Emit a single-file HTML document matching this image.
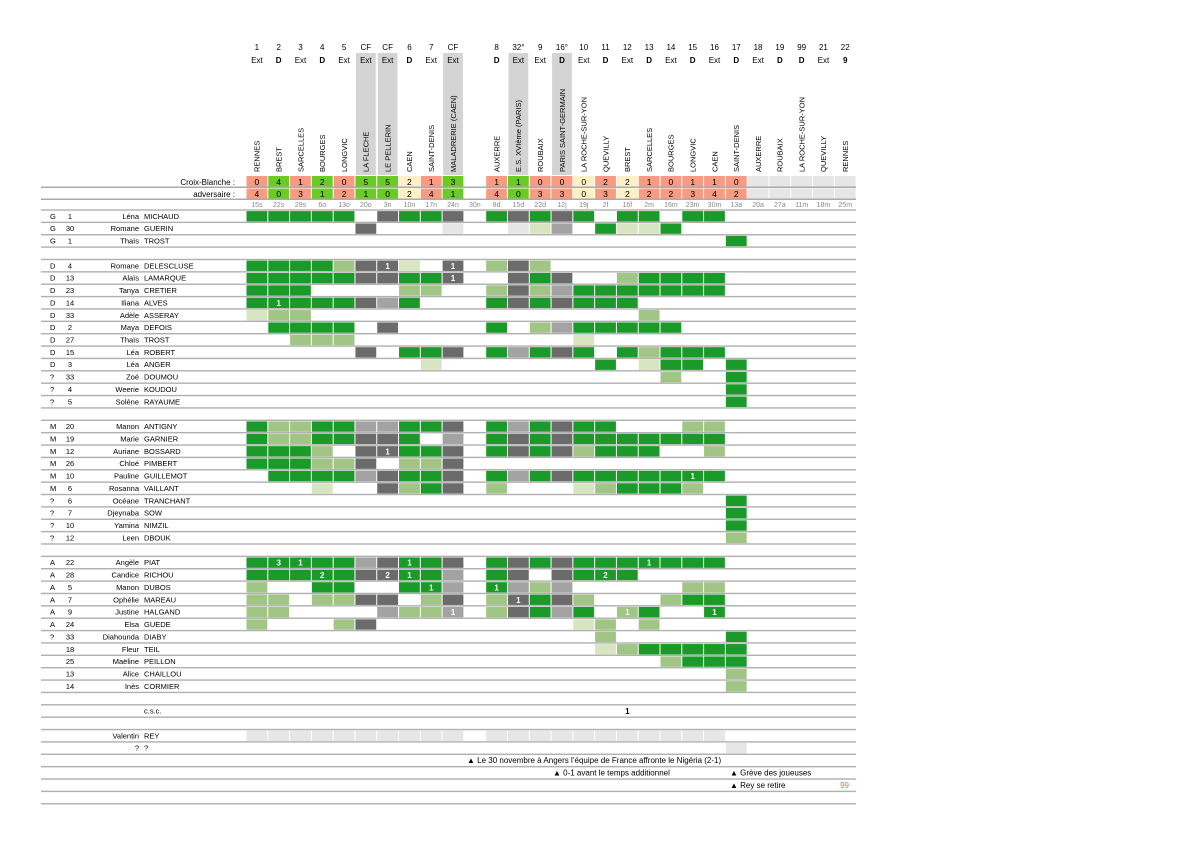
<!DOCTYPE html>
<html><head><meta charset="utf-8"><style>
html,body{margin:0;padding:0;background:#fff;width:1204px;height:851px;overflow:hidden}
svg{display:block}
text{font-family:"Liberation Sans","DejaVu Sans",sans-serif}
</style></head><body>
<svg id="s" width="1204" height="851" viewBox="0 0 1204 851" xmlns="http://www.w3.org/2000/svg"></svg>
<script>
var S=document.getElementById('s');var h='';
var X0=246,CW=21.79,R0=209.8,RH=12.37;
var C={G:'#1a9a28',L:'#a0c584',P:'#d8e5c1',K:'#6b6b6b',M:'#a3a3a3',E:'#e6e6e6'};
function cx(i){return X0+i*CW;}
var n1=['1','2','3','4','5','CF','CF','6','7','CF','','8','32°','9','16°','10','11','12','13','14','15','16','17','18','19','99','21','22'];
var n2=['Ext','D','Ext','D','Ext','Ext','Ext','D','Ext','Ext','','D','Ext','Ext','D','Ext','D','Ext','D','Ext','D','Ext','D','Ext','D','D','Ext','9'];
var tm=['RENNES','BREST','SARCELLES','BOURGES','LONGVIC','LA FLECHE','LE PELLERIN','CAEN','SAINT-DENIS','MALADRERIE (CAEN)','','AUXERRE','E.S. XVIème (PARIS)','ROUBAIX','PARIS SAINT-GERMAIN','LA ROCHE-SUR-YON','QUEVILLY','BREST','SARCELLES','BOURGES','LONGVIC','CAEN','SAINT-DENIS','AUXERRE','ROUBAIX','LA ROCHE-SUR-YON','QUEVILLY','RENNES'];
var dt=['15s','22s','29s','6o','13o','20o','3n','10n','17n','24n','30n','8d','15d','22d','12j','19j','2f','16f','2m','16m','23m','30m','13a','20a','27a','11m','18m','25m'];
var sc=[[0,4],[4,0],[1,3],[2,1],[0,2],[5,1],[5,0],[2,2],[1,4],[3,1],null,[1,4],[1,0],[0,3],[0,3],[0,0],[2,3],[2,2],[1,2],[0,2],[1,3],[1,4],[0,2]];
[5,6,9,12,14].forEach(function(i){h+='<rect x="'+(cx(i)+1)+'" y="53" width="'+(CW-2)+'" height="122" fill="#d4d4d4"/>';});
for(var i=0;i<28;i++){var m=cx(i)+CW/2;
h+='<text x="'+m+'" y="50" font-size="8" text-anchor="middle" fill="#000">'+n1[i]+'</text>';
var b=(n2[i]=='D'||n2[i]=='9');
h+='<text x="'+m+'" y="63" font-size="8" text-anchor="middle" fill="#000"'+(b?' font-weight="bold"':'')+'>'+n2[i]+'</text>';
if(tm[i])h+='<text transform="translate('+(m+2.8)+',172) rotate(-90)" font-size="7.5" fill="#000">'+tm[i]+'</text>';
h+='<text x="'+m+'" y="207" font-size="7" text-anchor="middle" fill="#888">'+dt[i]+'</text>';
if(i==10)continue;
var s=sc[i],col;
if(!s)col='#e6e6e6';else if(s[0]>s[1])col='#6acb22';else if(s[0]<s[1])col='#f99a82';else col='#fdf0c4';
h+='<rect x="'+(cx(i)+0.5)+'" y="176" width="'+(CW-1)+'" height="11" fill="'+col+'"/>';
h+='<rect x="'+(cx(i)+0.5)+'" y="188.5" width="'+(CW-1)+'" height="10" fill="'+col+'"/>';
if(s){h+='<text x="'+m+'" y="185" font-size="8.5" text-anchor="middle">'+s[0]+'</text><text x="'+m+'" y="197" font-size="8.5" text-anchor="middle">'+s[1]+'</text>';}
}
h+='<text x="235" y="185" font-size="8" text-anchor="end">Croix-Blanche :</text><text x="235" y="197" font-size="8" text-anchor="end">adversaire :</text>';
h+='<rect x="41" y="186.5" width="815" height="1.5" fill="#aaa"/><rect x="41" y="198.5" width="815" height="1.5" fill="#aaa"/>';
var D='.';function dots(n){return Array(n+1).join('.');}
var rows=[
['G','1','Léna','MICHAUD','GGGGG.KGGK.GKGKG.GG.GG'],
['G','30','Romane','GUERIN','.....K...E..EPM.GPPG'],
['G','1','Thaïs','TROST',dots(22)+'G'],
null,
['D','4','Romane','DELESCLUSE','GGGGLKKP.K.LKL',{6:1,9:1}],
['D','13','Alaïs','LAMARQUE','GGGGGKKGGK..KGK..LGGGG',{9:1}],
['D','23','Tanya','CRETIER','GGG....LL..LKLMGGGGGGG'],
['D','14','Iliana','ALVES','GGGGGKMG...GKGKGGG',{1:1}],
['D','33','Adèle','ASSERAY','PLL'+dots(15)+'L'],
['D','2','Maya','DEFOIS','.GGGG.K....G.LMGGGGG'],
['D','27','Thaïs','TROST','..LLL'+dots(10)+'P'],
['D','15','Léa','ROBERT','.....K.GGK.GMGKG.GLGGG'],
['D','3','Léa','ANGER',dots(8)+'P'+dots(7)+'G.PGG.G'],
['?','33','Zoé','DOUMOU',dots(19)+'L..G'],
['?','4','Weerie','KOUDOU',dots(22)+'G'],
['?','5','Solène','RAYAUME',dots(22)+'G'],
null,
['M','20','Manon','ANTIGNY','GLLGGMMGGK.GMGKGG...LL'],
['M','19','Marie','GARNIER','GLLGGKKG.M.GKGKGGGGGGG'],
['M','12','Auriane','BOSSARD','GGGL.KKGGK.GKGKLGGG..L',{6:1}],
['M','26','Chloé','PIMBERT','GGGLLK.LLK'],
['M','10','Pauline','GUILLEMOT','.GGGGMKGGK.GMGKGGGGGGG',{20:1}],
['M','6','Rosanna','VAILLANT','...P..KLGK.L...PLGGGL'],
['?','6','Océane','TRANCHANT',dots(22)+'G'],
['?','7','Djeynaba','SOW',dots(22)+'G'],
['?','10','Yamina','NIMZIL',dots(22)+'G'],
['?','12','Leen','DBOUK',dots(22)+'L'],
null,
['A','22','Angèle','PIAT','GGGGGMKGGK.GKGKGGGGGGG',{1:3,2:1,7:1,18:1}],
['A','28','Candice','RICHOU','GGGGGKKGGM.GK.KGGG',{3:2,6:2,7:1,16:2}],
['A','5','Manon','DUBOS','L..GG..GGM.GMLM.....LL',{8:1,11:1}],
['A','7','Ophélie','MAREAU','LL.LLKK.LK.LKGKL...LGG',{12:1}],
['A','9','Justine','HALGAND','LL....MLLM.LKGMG.LG..G',{9:1,17:1,21:1}],
['A','24','Elsa','GUEDE','L...LK.........PL.L'],
['?','33','Diahounda','DIABY',dots(16)+'L.....G'],
['','18','Fleur','TEIL',dots(16)+'PLGGGGG'],
['','25','Maëline','PEILLON',dots(19)+'LGGG'],
['','13','Alice','CHAILLOU',dots(22)+'L'],
['','14','Inès','CORMIER',dots(22)+'L'],
null,
['','','','c.s.c.','',{},{17:1}],
null,
['','','Valentin','REY','EEEEEEEEEE.EEEEEEEEEEE'],
['','','?','?',dots(22)+'E']
];
for(var r=0;r<rows.length;r++){var w=rows[r];var y=R0+r*RH;
if(w){var ty=y+9;
if(w[0])h+='<text x="50" y="'+ty+'" font-size="7.5">'+w[0]+'</text>';
if(w[1])h+='<text x="70" y="'+ty+'" font-size="7.5" text-anchor="middle">'+w[1]+'</text>';
h+='<text x="139" y="'+ty+'" font-size="7.5" text-anchor="end">'+w[2]+'</text>';
h+='<text x="144" y="'+ty+'" font-size="7.5">'+w[3]+'</text>';
var st=w[4];
for(var i=0;i<st.length;i++){var c=st[i];if(c=='.')continue;
h+='<rect x="'+(cx(i)+0.5)+'" y="'+(y+1.3)+'" width="'+(CW-1)+'" height="'+(RH-2)+'" fill="'+C[c]+'"/>';}
var g=w[5]||{};for(var k in g)h+='<text x="'+(cx(+k)+CW/2)+'" y="'+(ty+0.5)+'" font-size="8" font-weight="bold" fill="#fff" text-anchor="middle">'+g[k]+'</text>';
var g2=w[6]||{};for(var k in g2)h+='<text x="'+(cx(+k)+CW/2)+'" y="'+(ty+0.5)+'" font-size="8" font-weight="bold" fill="#000" text-anchor="middle">'+g2[k]+'</text>';
}}
for(var r=0;r<=48;r++){var y=R0+r*RH;h+='<rect x="41" y="'+(y-0.5)+'" width="815" height="1.4" fill="#b0b0b0"/>';}
function ny(r){return R0+r*RH+9;}
h+='<text x="467" y="'+ny(44)+'" font-size="8">▲ Le 30 novembre à Angers l’équipe de France affronte le Nigéria (2-1)</text>';
h+='<text x="553" y="'+ny(45)+'" font-size="8">▲ 0-1 avant le temps additionnel</text>';
h+='<text x="730" y="'+ny(45)+'" font-size="8">▲ Grève des joueuses</text>';
h+='<text x="730" y="'+ny(46)+'" font-size="8">▲ Rey se retire</text>';
h+='<text x="849" y="'+ny(46)+'" font-size="8" fill="#f46a4a" text-anchor="end">99</text>';
S.innerHTML=h;
</script>
</body></html>
